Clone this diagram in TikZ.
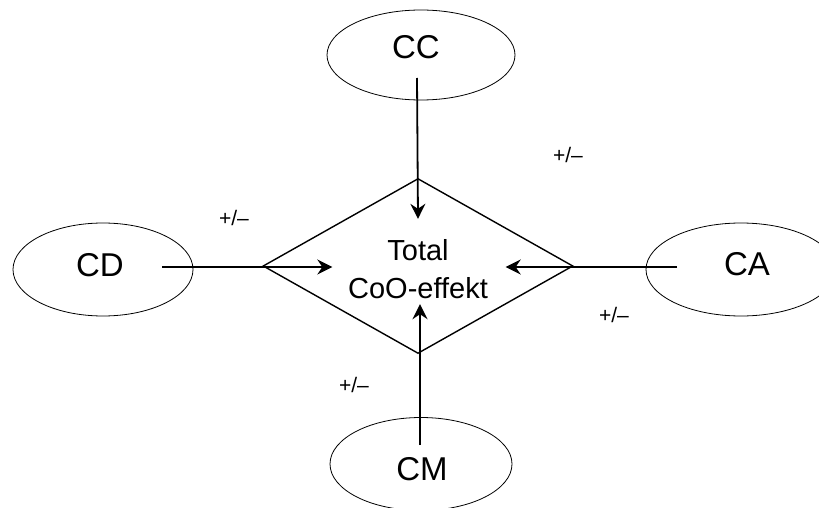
\documentclass[tikz,border=0pt]{standalone}
\usepackage{fontspec}
\setmainfont{Liberation Sans}
\usetikzlibrary{shapes.geometric,arrows.meta,calc}
\begin{document}
\begin{tikzpicture}[x=1pt,y=-1pt,
  ell/.style={draw, ellipse, line width=0.8pt, inner sep=0pt},
  big/.style={font=\fontsize{33}{38}\selectfont, inner sep=0pt},
  pm/.style={font=\fontsize{21}{24}\selectfont, inner sep=0pt},
  dia/.style={draw, diamond, line width=1.4pt, minimum width=310pt, minimum height=175pt, inner sep=0pt,
    align=center, font=\fontsize{29}{38}\selectfont},
  arr/.style={line width=1.8pt, -{Stealth[length=15pt,width=15pt,inset=5pt]}}]
\useasboundingbox (0,0) rectangle (819,508);
\clip (0,0) rectangle (819,508);
% diamond
\node[dia] (eff) at (418,266) {};
\node[font=\fontsize{29}{38}\selectfont, inner sep=0pt] (t1) at (418,250) {Total};
\node[font=\fontsize{29}{38}\selectfont, inner sep=0pt] (t2) at (418,288) {CoO-effekt};
% ellipses
\node[ell, minimum width=188pt, minimum height=90pt] (cc) at (421,55) {};
\node[big] (cct) at (416,47) {CC};
\node[ell, minimum width=180pt, minimum height=93pt] (cd) at (103,269.5) {};
\node[big] (cdt) at (100,265) {CD};
\node[ell, minimum width=190pt, minimum height=93pt] (ca) at (741,269.5) {};
\node[big] (cat) at (747,264.5) {CA};
\node[ell, minimum width=182pt, minimum height=93pt] (cm) at (421,464) {};
\node[big] (cmt) at (422,469.5) {CM};
% connector ends
\coordinate (ccs) at ($(cc.center)+(-4,23)$);
\coordinate (cce) at ($(eff.north)+(0,41)$);
\coordinate (cds) at ($(cd.center)+(59,-2.5)$);
\coordinate (cde) at ($(eff.west)+(70,1)$);
\coordinate (cas) at ($(ca.center)+(-64,-2.5)$);
\coordinate (cae) at ($(eff.east)+(-68,1)$);
\coordinate (cms) at ($(cm.center)+(-1,-19)$);
\coordinate (cme) at ($(eff.south)+(2,-50)$);
\draw[arr] (ccs) -- (cce);
\draw[arr] (cds) -- (cde);
\draw[arr] (cas) -- (cae);
\draw[arr] (cms) -- (cme);
% labels
\node[pm] (l1) at (234,218) {+/–};
\node[pm] (l2) at (568,155) {+/–};
\node[pm] (l3) at (614,315) {+/–};
\node[pm] (l4) at (354,385) {+/–};
\end{tikzpicture}
\end{document}
